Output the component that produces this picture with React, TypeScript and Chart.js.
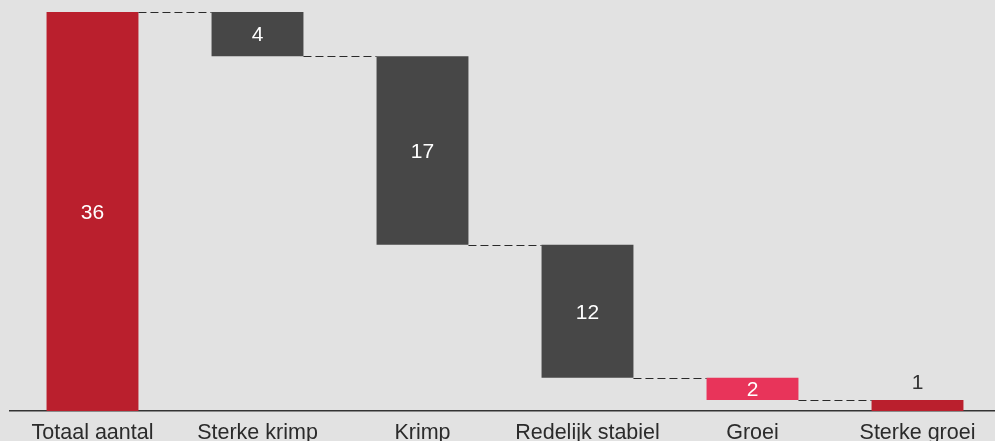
import React, { useEffect, useRef } from "react";
import { Chart, registerables } from "chart.js";

Chart.register(...registerables);

const categories = ["Totaal aantal", "Sterke krimp", "Krimp", "Redelijk stabiel", "Groei", "Sterke groei"];
const values = [36, 4, 17, 12, 2, 1];
const barColors = ["#BA1F2D", "#474747", "#474747", "#474747", "#E8345A", "#BA1F2D"];
const labelInside = [true, true, true, true, true, false];
const yMax = 36;

const FONT = "'Liberation Sans', Arial, Helvetica, sans-serif";

function buildRanges(): [number, number][] {
  const out: [number, number][] = [];
  let running = values[0];
  out.push([0, values[0]]);
  for (let i = 1; i < values.length; i++) {
    out.push([running - values[i], running]);
    running -= values[i];
  }
  return out;
}

export default function App() {
  const ref = useRef<HTMLCanvasElement | null>(null);
  useEffect(() => {
    const ranges = buildRanges();
    const connectors = {
      id: "connectors",
      afterDatasetsDraw(chart: any) {
        const ctx = chart.ctx;
        const meta = chart.getDatasetMeta(0);
        const y = chart.scales.y;
        ctx.save();
        ctx.strokeStyle = "#2a2a2a";
        ctx.lineWidth = 1.2;
        ctx.setLineDash([8, 4]);
        for (let i = 0; i < ranges.length - 1; i++) {
          const a = meta.data[i] as any;
          const b = meta.data[i + 1] as any;
          const level = ranges[i + 1][1];
          const py = Math.round(y.getPixelForValue(level)) + 0.5;
          ctx.beginPath();
          ctx.moveTo(a.x + a.width / 2, py);
          ctx.lineTo(b.x - b.width / 2, py);
          ctx.stroke();
        }
        ctx.restore();
      },
    };
    const valueLabels = {
      id: "valueLabels",
      afterDatasetsDraw(chart: any) {
        const ctx = chart.ctx;
        const meta = chart.getDatasetMeta(0);
        const y = chart.scales.y;
        ctx.save();
        ctx.font = `21px ${FONT}`;
        ctx.textAlign = "center";
        ctx.textBaseline = "middle";
        for (let i = 0; i < ranges.length; i++) {
          const el = meta.data[i] as any;
          const top = y.getPixelForValue(ranges[i][1]);
          const bottom = y.getPixelForValue(ranges[i][0]);
          if (labelInside[i]) {
            ctx.fillStyle = "#ffffff";
            ctx.fillText(String(values[i]), el.x, (top + bottom) / 2 + 1.5);
          } else {
            ctx.fillStyle = "#333333";
            ctx.fillText(String(values[i]), el.x, top - 17);
          }
        }
        ctx.restore();
      },
    };
    const chart = new Chart(ref.current as HTMLCanvasElement, {
      type: "bar",
      data: {
        labels: categories,
        datasets: [
          {
            data: ranges as any,
            backgroundColor: barColors,
            borderWidth: 0,
            categoryPercentage: 1,
            barPercentage: 0.557,
          },
        ],
      },
      options: {
        animation: false,
        responsive: false,
        maintainAspectRatio: false,
        layout: { padding: { left: 10, right: 0, top: 12, bottom: 0 } },
        plugins: { legend: { display: false }, tooltip: { enabled: false } },
        scales: {
          x: {
            grid: { display: false, drawTicks: false },
            border: { display: true, color: "#333333", width: 1.5 },
            ticks: {
              color: "#2b2b2b",
              font: { family: FONT, size: 21.5 },
              padding: 9,
              maxRotation: 0,
              autoSkip: false,
            },
            afterFit(scale: any) {
              scale.height = 40;
            },
          },
          y: {
            display: false,
            min: 0,
            max: yMax,
          },
        },
      },
      plugins: [connectors, valueLabels],
    });
    return () => chart.destroy();
  }, []);
  return (
    <div
      style={{
        position: "fixed",
        left: 0,
        top: 0,
        width: 995,
        height: 441,
        overflow: "hidden",
        background: "#E2E2E2",
      }}
    >
      <canvas ref={ref} width={1000} height={451} style={{ display: "block", width: 1000, height: 451 }} />
    </div>
  );
}
